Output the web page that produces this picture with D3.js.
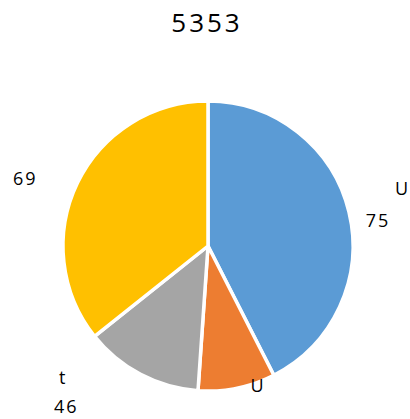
<!DOCTYPE html>
<html><head><meta charset="utf-8">
<script src="https://cdn.jsdelivr.net/npm/d3@7"></script>
<style>body{margin:0;background:#fff}svg{display:block}</style>
</head><body>
<script>
const title = "5353";
const categories = ["U", "U", "t", ""];
const values = [42.5, 8.6, 13.2, 35.7];
const valueLabels = ["75", "", "46", "69"];
const colors = ["#5B9BD5", "#ED7D31", "#A5A5A5", "#FFC000"];

const W = 410, H = 419, cx = 208, cy = 246, R = 145;
const svg = d3.select("body").append("svg").attr("width", W).attr("height", H);
const font = "'Open Sans', sans-serif";

svg.append("text").attr("x", 207).attr("y", 22)
  .attr("text-anchor", "middle").attr("dominant-baseline", "central")
  .style("font-family", font).style("font-size", "26px").style("letter-spacing", "3px")
  .text(title);

const pie = d3.pie().sort(null).value(d => d)(values);
const arc = d3.arc().innerRadius(0).outerRadius(R);
const g = svg.append("g").attr("transform", `translate(${cx},${cy})`);
g.selectAll("path").data(pie).join("path")
  .attr("d", arc).attr("fill", (d, i) => colors[i])
  .attr("stroke", "#fff").attr("stroke-width", 3.5).attr("stroke-linejoin", "round");

// label placement: polar angle (deg, clockwise from top) and radius per slice
const nameR = [203, 148, 195, 195];
const nameAngle = [73.4, 160.2, 227.9, 290.4];
const valR = [172, 0, 214, 195];
const valAngle = [81.3, 0, 221.5, 290.4];
const pt = (a, r) => [r * Math.sin(a * Math.PI / 180), -r * Math.cos(a * Math.PI / 180)];

const lab = svg.append("g").attr("transform", `translate(${cx},${cy})`)
  .style("font-family", font).style("font-size", "18px").style("letter-spacing", "2px");
pie.forEach((d, i) => {
  if (categories[i]) {
    const p = pt(nameAngle[i], nameR[i]);
    lab.append("text").attr("x", p[0]).attr("y", p[1])
      .attr("text-anchor", "middle").attr("dominant-baseline", "central").text(categories[i]);
  }
  if (valueLabels[i]) {
    const p = pt(valAngle[i], valR[i]);
    lab.append("text").attr("x", p[0]).attr("y", p[1])
      .attr("text-anchor", "middle").attr("dominant-baseline", "central").text(valueLabels[i]);
  }
});
</script>
</body></html>
